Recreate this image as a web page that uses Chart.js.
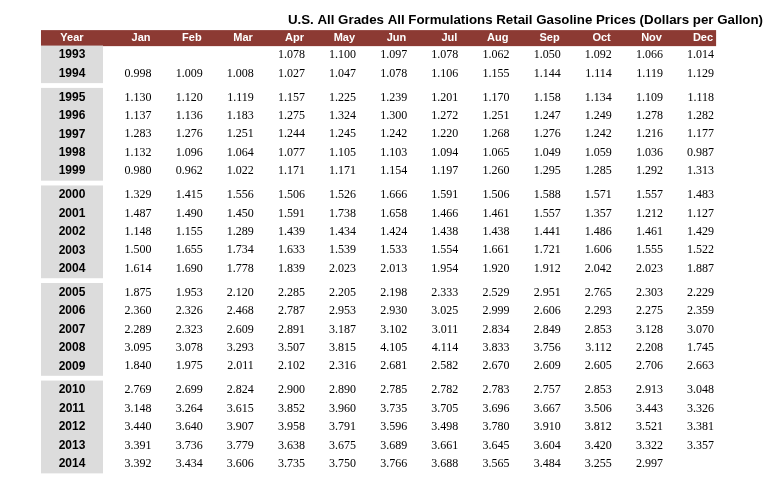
<!DOCTYPE html>
<html>
<head>
<meta charset="utf-8">
<script src="https://cdn.jsdelivr.net/npm/chart.js@4.4.1/dist/chart.umd.min.js"></script>
<style>
  body { margin: 0; background: #fff; }
  #wrap { width: 780px; height: 490px; position: relative; }
</style>
</head>
<body>
<div id="wrap"><canvas id="priceTable"></canvas></div>
<script>
const titleText = "U.S. All Grades All Formulations Retail Gasoline Prices (Dollars per Gallon)";
const months = ["Jan", "Feb", "Mar", "Apr", "May", "Jun", "Jul", "Aug", "Sep", "Oct", "Nov", "Dec"];
const years = [1993, 1994, 1995, 1996, 1997, 1998, 1999, 2000, 2001, 2002, 2003,
    2004, 2005, 2006, 2007, 2008, 2009, 2010, 2011, 2012, 2013, 2014];
// first year of each shaded block
const groupStarts = [1993, 1995, 2000, 2005, 2010];

const p1993 = [null, null, null, 1.078, 1.100, 1.097, 1.078, 1.062, 1.050, 1.092, 1.066, 1.014];
const p1994 = [0.998, 1.009, 1.008, 1.027, 1.047, 1.078, 1.106, 1.155, 1.144, 1.114, 1.119, 1.129];
const p1995 = [1.130, 1.120, 1.119, 1.157, 1.225, 1.239, 1.201, 1.170, 1.158, 1.134, 1.109, 1.118];
const p1996 = [1.137, 1.136, 1.183, 1.275, 1.324, 1.300, 1.272, 1.251, 1.247, 1.249, 1.278, 1.282];
const p1997 = [1.283, 1.276, 1.251, 1.244, 1.245, 1.242, 1.220, 1.268, 1.276, 1.242, 1.216, 1.177];
const p1998 = [1.132, 1.096, 1.064, 1.077, 1.105, 1.103, 1.094, 1.065, 1.049, 1.059, 1.036, 0.987];
const p1999 = [0.980, 0.962, 1.022, 1.171, 1.171, 1.154, 1.197, 1.260, 1.295, 1.285, 1.292, 1.313];
const p2000 = [1.329, 1.415, 1.556, 1.506, 1.526, 1.666, 1.591, 1.506, 1.588, 1.571, 1.557, 1.483];
const p2001 = [1.487, 1.490, 1.450, 1.591, 1.738, 1.658, 1.466, 1.461, 1.557, 1.357, 1.212, 1.127];
const p2002 = [1.148, 1.155, 1.289, 1.439, 1.434, 1.424, 1.438, 1.438, 1.441, 1.486, 1.461, 1.429];
const p2003 = [1.500, 1.655, 1.734, 1.633, 1.539, 1.533, 1.554, 1.661, 1.721, 1.606, 1.555, 1.522];
const p2004 = [1.614, 1.690, 1.778, 1.839, 2.023, 2.013, 1.954, 1.920, 1.912, 2.042, 2.023, 1.887];
const p2005 = [1.875, 1.953, 2.120, 2.285, 2.205, 2.198, 2.333, 2.529, 2.951, 2.765, 2.303, 2.229];
const p2006 = [2.360, 2.326, 2.468, 2.787, 2.953, 2.930, 3.025, 2.999, 2.606, 2.293, 2.275, 2.359];
const p2007 = [2.289, 2.323, 2.609, 2.891, 3.187, 3.102, 3.011, 2.834, 2.849, 2.853, 3.128, 3.070];
const p2008 = [3.095, 3.078, 3.293, 3.507, 3.815, 4.105, 4.114, 3.833, 3.756, 3.112, 2.208, 1.745];
const p2009 = [1.840, 1.975, 2.011, 2.102, 2.316, 2.681, 2.582, 2.670, 2.609, 2.605, 2.706, 2.663];
const p2010 = [2.769, 2.699, 2.824, 2.900, 2.890, 2.785, 2.782, 2.783, 2.757, 2.853, 2.913, 3.048];
const p2011 = [3.148, 3.264, 3.615, 3.852, 3.960, 3.735, 3.705, 3.696, 3.667, 3.506, 3.443, 3.326];
const p2012 = [3.440, 3.640, 3.907, 3.958, 3.791, 3.596, 3.498, 3.780, 3.910, 3.812, 3.521, 3.381];
const p2013 = [3.391, 3.736, 3.779, 3.638, 3.675, 3.689, 3.661, 3.645, 3.604, 3.420, 3.322, 3.357];
const p2014 = [3.392, 3.434, 3.606, 3.735, 3.750, 3.766, 3.688, 3.565, 3.484, 3.255, 2.997, null];

const priceRows = [p1993, p1994, p1995, p1996, p1997, p1998, p1999, p2000, p2001, p2002, p2003,
    p2004, p2005, p2006, p2007, p2008, p2009, p2010, p2011, p2012, p2013, p2014];

const GROUP_GAP = 0.3;
const YEAR_COL = { left: -1.161, right: 0.052, center: -0.555 };
const HEADER = { top: -1.36, bottom: -0.49, mid: -0.92, right: 12.04 };

// row position on the y scale, with a small gap between blocks
const groupOf = (year) => groupStarts.filter((g) => g <= year).length - 1;
const rowPos = (i) => i + groupOf(years[i]) * GROUP_GAP;

const datasets = priceRows.map((row, i) => ({
    label: String(years[i]),
    data: row
        .map((v, m) => (v === null ? null : { x: m + 1, y: rowPos(i), v: v }))
        .filter((pt) => pt !== null),
    pointRadius: 0,
    pointHoverRadius: 0,
}));

const tablePlugin = {
    id: "tablePlugin",
    beforeDatasetsDraw(chart) {
        const { ctx, scales: { x, y } } = chart;
        ctx.save();
        // header bar
        ctx.fillStyle = "#8c3a33";
        const hx0 = x.getPixelForValue(YEAR_COL.left);
        const hx1 = x.getPixelForValue(HEADER.right);
        const hy0 = y.getPixelForValue(HEADER.top);
        const hy1 = y.getPixelForValue(HEADER.bottom);
        ctx.fillRect(hx0, hy0, hx1 - hx0, hy1 - hy0);

        // grey year blocks
        ctx.fillStyle = "#dcdcdc";
        groupStarts.forEach((start, g) => {
            const idx = years.map((yr, i) => i).filter((i) => groupOf(years[i]) === g);
            const top = y.getPixelForValue(rowPos(idx[0]) - 0.52);
            const bottom = y.getPixelForValue(rowPos(idx[idx.length - 1]) + 0.52);
            const gx1 = x.getPixelForValue(YEAR_COL.right);
            ctx.fillRect(hx0, top, gx1 - hx0, bottom - top);
        });

        // header labels
        ctx.fillStyle = "#ffffff";
        ctx.font = "bold 11px 'Liberation Sans', Arial, sans-serif";
        ctx.textBaseline = "middle";
        const hMid = y.getPixelForValue(HEADER.mid);
        ctx.textAlign = "center";
        ctx.fillText("Year", x.getPixelForValue(YEAR_COL.center), hMid);
        ctx.textAlign = "right";
        months.forEach((m, i) => {
            ctx.fillText(m, x.getPixelForValue(i + 1) - 1, hMid);
        });

        // year labels
        ctx.fillStyle = "#000000";
        ctx.font = "bold 12px 'Liberation Sans', Arial, sans-serif";
        ctx.textAlign = "center";
        years.forEach((yr, i) => {
            ctx.fillText(String(yr), x.getPixelForValue(YEAR_COL.center), y.getPixelForValue(rowPos(i)));
        });
        ctx.restore();
    },
    afterDatasetsDraw(chart) {
        const { ctx } = chart;
        ctx.save();
        ctx.fillStyle = "#000000";
        ctx.font = "12px 'Liberation Serif', 'Times New Roman', serif";
        ctx.textAlign = "right";
        ctx.textBaseline = "middle";
        chart.data.datasets.forEach((ds, d) => {
            chart.getDatasetMeta(d).data.forEach((el, j) => {
                ctx.fillText(ds.data[j].v.toFixed(3), el.x, el.y);
            });
        });
        ctx.restore();
    },
};

new Chart(document.getElementById("priceTable"), {
    type: "scatter",
    data: { datasets: datasets },
    plugins: [tablePlugin],
    options: {
        responsive: true,
        maintainAspectRatio: false,
        animation: false,
        events: [],
        layout: { padding: { right: 17 } },
        scales: {
            x: { type: "linear", display: false, min: -1.9625, max: 12.957 },
            y: { type: "linear", display: false, reverse: true, min: -1.477, max: 23.624 },
        },
        plugins: {
            legend: { display: false },
            tooltip: { enabled: false },
            title: {
                display: true,
                text: titleText,
                align: "end",
                color: "#000000",
                font: { family: "'Liberation Sans', Arial, sans-serif", size: 13.3, weight: "bold" },
                padding: { top: 12, bottom: 0 },
            },
        },
    },
});
</script>
</body>
</html>
